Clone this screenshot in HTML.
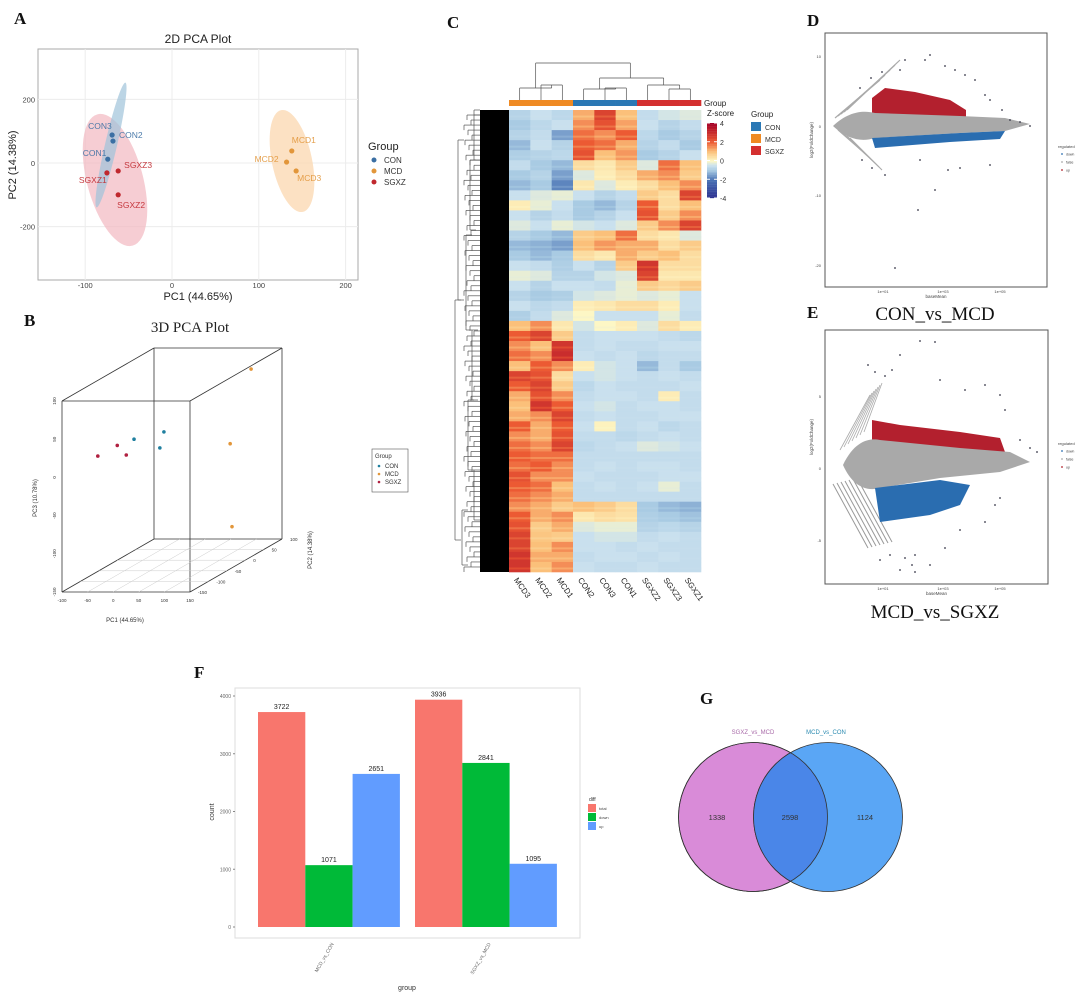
<!DOCTYPE html>
<html><head><meta charset="utf-8"><style>
html,body{margin:0;padding:0;background:#fff;}
svg{display:block;font-family:"Liberation Sans",sans-serif;}
.pl{font-family:"Liberation Serif",serif;font-weight:bold;font-size:17px;fill:#111;}
</style></head><body>
<svg id="fig" width="1080" height="995" viewBox="0 0 1080 995" xmlns="http://www.w3.org/2000/svg">
<text class="pl" x="14" y="24">A</text>
<text class="pl" x="24" y="326">B</text>
<text class="pl" x="447" y="28">C</text>
<text class="pl" x="807" y="26">D</text>
<text class="pl" x="807" y="318">E</text>
<text class="pl" x="194" y="678">F</text>
<text class="pl" x="700" y="704">G</text>

<!-- Panel A -->
<g id="pA">
<text x="198" y="43" font-size="12" text-anchor="middle" fill="#222">2D PCA Plot</text>
<rect x="38" y="49" width="320" height="231" fill="#fff" stroke="#aaa"/>
<g id="aGrid"></g>
<ellipse cx="115" cy="180" rx="28" ry="68" transform="rotate(-15 115 180)" fill="#f2b8c0" opacity="0.7"/>
<ellipse cx="111" cy="145" rx="6" ry="64" transform="rotate(13 111 145)" fill="#9fc3da" opacity="0.7"/>
<ellipse cx="292" cy="161" rx="20" ry="52" transform="rotate(-12 292 161)" fill="#fbd9b4" opacity="0.8"/>
<g id="aPts"></g>
<text x="198" y="300" font-size="11" text-anchor="middle" fill="#222">PC1 (44.65%)</text>
<text transform="translate(16 165) rotate(-90)" font-size="11" text-anchor="middle" fill="#222">PC2 (14.38%)</text>
<g>
<text x="368" y="150" font-size="11" fill="#222">Group</text>
<circle cx="374" cy="160" r="2.5" fill="#3b6fa3"/><text x="384" y="163" font-size="8" fill="#333">CON</text>
<circle cx="374" cy="171" r="2.5" fill="#e2963a"/><text x="384" y="174" font-size="8" fill="#333">MCD</text>
<circle cx="374" cy="182" r="2.5" fill="#c0282e"/><text x="384" y="185" font-size="8" fill="#333">SGXZ</text>
</g>
</g>

<!-- Panel B -->
<g id="pB">
<text x="190" y="332" font-size="15" text-anchor="middle" font-family="Liberation Serif,serif" fill="#222">3D PCA Plot</text>
<g id="bBox" stroke="#333" stroke-width="0.8" fill="none"></g>
<g id="bPts"></g>
<text x="125" y="622" font-size="6" text-anchor="middle" fill="#333">PC1 (44.65%)</text>
<text transform="translate(37 498) rotate(-90)" font-size="6" text-anchor="middle" fill="#333">PC3 (10.78%)</text>
<text transform="translate(312 550) rotate(-90)" font-size="6" text-anchor="middle" fill="#333">PC2 (14.38%)</text>
<g>
<rect x="372" y="449" width="36" height="43" fill="#fff" stroke="#555" stroke-width="0.6"/>
<text x="375" y="458" font-size="6" fill="#333">Group</text>
<circle cx="379" cy="466" r="1.3" fill="#1f7f9f"/><text x="385" y="468" font-size="6" fill="#333">CON</text>
<circle cx="379" cy="474" r="1.3" fill="#e2963a"/><text x="385" y="476" font-size="6" fill="#333">MCD</text>
<circle cx="379" cy="482" r="1.3" fill="#b02040"/><text x="385" y="484" font-size="6" fill="#333">SGXZ</text>
</g>
</g>

<!-- Panel C -->
<g id="pC">
<g id="cTree" stroke="#555" stroke-width="0.7" fill="none"></g>
<g id="cCells"></g>
<g id="cBar"></g>
<g id="cLabels"></g>
<text x="704" y="106" font-size="8" fill="#222">Group</text>
<text x="707" y="116" font-size="8" fill="#222">Z-score</text>
<g id="cScale"></g>
<g>
<text x="751" y="117" font-size="8" fill="#222">Group</text>
<rect x="751" y="122" width="10" height="9" fill="#2a78b5"/><text x="765" y="130" font-size="7" fill="#333">CON</text>
<rect x="751" y="134" width="10" height="9" fill="#ef8a23"/><text x="765" y="142" font-size="7" fill="#333">MCD</text>
<rect x="751" y="146" width="10" height="9" fill="#d43030"/><text x="765" y="154" font-size="7" fill="#333">SGXZ</text>
</g>
</g>

<!-- Panel D & E -->
<g id="pD"></g>
<g id="pE"></g>
<text x="935" y="320" font-size="19" font-family="Liberation Serif,serif" text-anchor="middle" fill="#111">CON_vs_MCD</text>
<text x="935" y="618" font-size="19" font-family="Liberation Serif,serif" text-anchor="middle" fill="#111">MCD_vs_SGXZ</text>

<!-- Panel F -->
<g id="pF">
<rect x="235" y="688" width="345" height="250" fill="#fff" stroke="#ddd"/>
<g id="fAxis"></g>
<g id="fBars"></g>
<text transform="translate(214 812) rotate(-90)" font-size="7" text-anchor="middle" fill="#333">count</text>
<text x="407" y="990" font-size="7" text-anchor="middle" fill="#333">group</text>
<g>
<text x="589" y="801" font-size="5" fill="#333">diff</text>
<rect x="588" y="804" width="8" height="8" fill="#f8766d"/><text x="599" y="810" font-size="4" fill="#444">total</text>
<rect x="588" y="813" width="8" height="8" fill="#00ba38"/><text x="599" y="819" font-size="4" fill="#444">down</text>
<rect x="588" y="822" width="8" height="8" fill="#619cff"/><text x="599" y="828" font-size="4" fill="#444">up</text>
</g>
</g>

<!-- Panel G -->
<g id="pG">
<circle cx="753" cy="817" r="74.5" fill="#d98bd8" stroke="#333" stroke-width="0.8"/>
<circle cx="828" cy="817" r="74.5" fill="#5aa6f5" stroke="#333" stroke-width="0.8"/>
<clipPath id="vc"><circle cx="753" cy="817" r="74.5"/></clipPath>
<circle cx="828" cy="817" r="74.5" fill="#4a86e8" clip-path="url(#vc)" stroke="#333" stroke-width="0.8"/>
<circle cx="753" cy="817" r="74.5" fill="none" stroke="#333" stroke-width="0.8"/>
<text x="753" y="734" font-size="6" text-anchor="middle" fill="#a86aa8">SGXZ_vs_MCD</text>
<text x="826" y="734" font-size="6" text-anchor="middle" fill="#2a8ab0">MCD_vs_CON</text>
<g id="gNums"></g>
</g>
</svg>
<script>
const NS="http://www.w3.org/2000/svg";
function mk(tag,attrs,parent){const e=document.createElementNS(NS,tag);for(const k in attrs)e.setAttribute(k,attrs[k]);if(parent)parent.appendChild(e);return e;}

/* ---------- Panel A data ---------- */
const pcaSamples=["CON1","CON2","CON3","MCD1","MCD2","MCD3","SGXZ1","SGXZ2","SGXZ3"];
const pcaGroups=["CON","CON","CON","MCD","MCD","MCD","SGXZ","SGXZ","SGXZ"];
const pcaPC1=[-74,-68,-69,138,132,143,-75,-62,-62];
const pcaPC2=[12,69,88,38,3,-25,-31,-100,-25];
const aTicksX=[-100,0,100,200];
const aTicksY=[200,0,-200];
const groupColors={CON:"#3b6fa3",MCD:"#e2963a",SGXZ:"#c0282e"};
const xA=v=>172+v*0.868, yA=v=>163-v*0.318;
const aGrid=document.getElementById('aGrid');
aTicksX.forEach(t=>{mk('line',{x1:xA(t),x2:xA(t),y1:49,y2:280,stroke:'#ececec'},aGrid);
 const tx=mk('text',{x:xA(t),y:288,'font-size':7.5,'text-anchor':'middle',fill:'#444'},aGrid);tx.textContent=t;});
aTicksY.forEach(t=>{mk('line',{x1:38,x2:358,y1:yA(t),y2:yA(t),stroke:'#ececec'},aGrid);
 const tx=mk('text',{x:35,y:yA(t)+3,'font-size':7.5,'text-anchor':'end',fill:'#444'},aGrid);tx.textContent=t;});
const aPts=document.getElementById('aPts');
const labelOff={CON1:[-25,-3],CON2:[6,-3],CON3:[-24,-6],MCD1:[0,-8],MCD2:[-32,0],MCD3:[1,10],SGXZ1:[-28,10],SGXZ2:[-1,13],SGXZ3:[6,-3]};
pcaSamples.forEach((s,i)=>{
 const c=mk('circle',{cx:xA(pcaPC1[i]),cy:yA(pcaPC2[i]),r:2.6,fill:groupColors[pcaGroups[i]]},aPts);
 
 
 const o=labelOff[s];
 const t=mk('text',{x:xA(pcaPC1[i])+o[0],y:yA(pcaPC2[i])+o[1],'font-size':8.5,fill:groupColors[pcaGroups[i]],opacity:0.9},aPts);
 t.textContent=s;
});

/* ---------- Panel B data ---------- */
const b3Groups=["SGXZ","SGXZ","SGXZ","CON","CON","CON","MCD","MCD","MCD"];
const b3PC1=[-66,-28,4,-24,48,20,104,135,153];
const b3PC2=[-100,-100,-120,-60,-90,-40,80,-20,-40];
const b3PC3=[14,28,21,25,22,29,78,8,-95];
const b3Col={CON:"#1f7f9f",MCD:"#e2963a",SGXZ:"#b02040"};
function proj(x,y,z){const d=(y+150)/250;return [62+(x+100)*0.512+92*d, 592-(z+150)*0.764-53*d];}
const bBox=document.getElementById('bBox');
function L(p,q,par,extra){return mk('line',Object.assign({x1:p[0],y1:p[1],x2:q[0],y2:q[1]},extra||{}),par);}
const c000=proj(-100,-150,-150),c100=proj(150,-150,-150),c010=proj(-100,100,-150),c110=proj(150,100,-150);
const c001=proj(-100,-150,100),c101=proj(150,-150,100),c011=proj(-100,100,100),c111=proj(150,100,100);
[[c000,c100],[c000,c001],[c100,c101],[c001,c101],[c010,c011],[c011,c111],[c111,c110],[c010,c110],[c001,c011],[c101,c111],[c100,c110],[c000,c010]].forEach(e=>L(e[0],e[1],bBox));
[-50,0,50,100].forEach(v=>L(proj(v,-150,-150),proj(v,100,-150),bBox,{stroke:'#ccc','stroke-width':0.5}));
[-100,-50,0,50].forEach(v=>L(proj(-100,v,-150),proj(150,v,-150),bBox,{stroke:'#ccc','stroke-width':0.5}));
const bPts=document.getElementById('bPts');
b3PC1.forEach((v,i)=>{const p=proj(v,b3PC2[i],b3PC3[i]);
 const c=mk('circle',{cx:p[0],cy:p[1],r:1.8,fill:b3Col[b3Groups[i]]},bPts);
 
 });
[-100,-50,0,50,100,150].forEach(v=>{const p=proj(v,-150,-150);const t=mk('text',{x:p[0],y:p[1]+10,'font-size':4.5,'text-anchor':'middle',fill:'#333'},bPts);t.textContent=v;});
[-150,-100,-50,0,50,100].forEach(v=>{const p=proj(-100,-150,v);const t=mk('text',{transform:`translate(${p[0]-6} ${p[1]}) rotate(-90)`,'font-size':4.5,'text-anchor':'middle',fill:'#333'},bPts);t.textContent=v;});
[-150,-100,-50,0,50,100].forEach(v=>{const p=proj(150,v,-150);const t=mk('text',{x:p[0]+8,y:p[1]+2,'font-size':4.5,fill:'#333'},bPts);t.textContent=v;});

/* ---------- Panel C data ---------- */
const hmSamples=["MCD3","MCD2","MCD1","CON2","CON3","CON1","SGXZ2","SGXZ3","SGXZ1"];
const hmGroups=["MCD","MCD","MCD","CON","CON","CON","SGXZ","SGXZ","SGXZ"];
const hmZ=[
[-0.8,-0.5,-0.7,1.2,2.5,1.0,-0.6,-0.4,-0.3],[-1,-0.7,-0.5,1.5,2.2,1.3,-0.5,-0.8,-0.6],
[-0.8,-0.6,-1.5,1.8,1.5,2.0,-0.7,-1,-0.8],[-1.2,-0.5,-0.8,2.0,1.8,1.2,-0.8,-0.6,-1],
[-0.9,-0.8,-0.7,2.2,1.0,1.4,-1,-0.8,-0.5],[-0.6,-1,-1.2,0.5,0.3,0.8,-0.3,1.8,1.0],
[-1,-0.8,-1.5,-0.3,0.2,0.5,1.2,1.5,0.8],[-1.2,-1,-1.8,0.3,-0.3,0.2,0.5,1.0,1.5],
[-0.5,-0.3,-0.2,-0.5,-0.8,-0.6,0.8,0.5,2.5],[0.2,-0.2,-0.5,-1,-1.2,-0.8,2.0,0.5,1.0],
[-0.5,-0.8,-0.6,-1,-0.8,-0.5,2.2,0.8,1.5],[-0.3,-0.5,-0.2,-0.4,-0.5,-0.3,0.8,1.5,2.5],
[-0.8,-1,-1.2,0.8,1.0,1.8,0.5,0.3,-0.3],[-1.2,-1.3,-1.5,1.0,1.4,1.2,1.2,0.5,0.8],
[-1,-1.2,-1,0.5,0.3,1.2,0.8,1.0,0.5],[-0.5,-0.6,-0.9,-0.5,-0.8,0.8,2.8,0.5,0.5],
[-0.2,-0.3,-0.8,-0.8,-0.4,-0.3,2.5,0.3,0.3],[-0.5,-0.8,-0.5,-0.5,-0.6,-0.2,0.8,0.6,0.8],
[-0.8,-1,-0.9,-0.4,-0.3,-0.2,-0.3,-0.2,-0.5],[-0.5,-0.7,-0.6,0.2,0.3,0.5,0.5,0.2,-0.5],
[-0.9,-0.6,-0.3,0.0,-0.5,-0.5,-0.5,-0.2,-0.6],[1.0,1.5,0.3,-0.4,0.0,0.2,-0.3,0.5,0.2],
[2.0,2.5,0.8,-0.6,-0.5,-0.5,-0.5,-0.6,-0.7],[1.5,1.0,2.8,-0.6,-0.5,-0.6,-0.6,-0.5,-0.5],
[1.8,1.5,3.0,-0.5,-0.6,-0.5,-0.7,-0.6,-0.6],[1.0,2.0,1.5,0.2,-0.4,-0.5,-1.2,-0.6,-1.0],
[2.5,2.2,0.5,-0.5,-0.4,-0.5,-0.6,-0.5,-0.6],[2.0,2.5,0.8,-0.7,-0.5,-0.6,-0.6,-0.6,-0.5],
[1.2,2.2,1.5,-0.6,-0.5,-0.5,-0.6,0.2,-0.6],[1.0,2.8,2.0,-0.5,-0.4,-0.6,-0.5,-0.5,-0.6],
[1.2,1.5,2.5,-0.6,-0.5,-0.6,-0.6,-0.5,-0.5],[2.0,1.2,2.0,-0.5,0.1,-0.6,-0.5,-0.7,-0.6],
[1.5,1.2,2.2,-0.6,-0.6,-0.7,-0.6,-0.5,-0.6],[1.8,1.5,2.5,-0.7,-0.6,-0.5,-0.3,-0.4,-0.5],
[2.0,1.8,1.8,-0.6,-0.6,-0.6,-0.6,-0.6,-0.6],[1.8,2.0,1.5,-0.6,-0.5,-0.6,-0.5,-0.5,-0.6],
[2.2,1.5,1.5,-0.5,-0.6,-0.6,-0.6,-0.5,-0.5],[2.0,1.8,1.0,-0.6,-0.5,-0.6,-0.5,-0.2,-0.6],
[1.8,1.5,1.2,-0.6,-0.6,-0.6,-0.6,-0.6,-0.6],[1.5,1.2,0.8,1.0,0.8,0.5,-1.0,-1.2,-1.3],
[2.0,1.2,1.5,0.3,0.5,0.4,-0.9,-1.0,-1.1],[2.2,0.8,1.2,-0.3,-0.2,-0.2,-0.8,-0.7,-0.8],
[2.5,0.9,0.8,-0.5,-0.4,-0.4,-0.6,-0.5,-0.6],[2.5,1.0,1.5,-0.5,-0.5,-0.6,-0.5,-0.6,-0.6],
[2.8,1.2,1.2,-0.6,-0.5,-0.5,-0.6,-0.5,-0.6],[2.8,1.0,1.5,-0.5,-0.6,-0.6,-0.5,-0.6,-0.6]];
const zTicks=[4,2,0,-2,-4];
const zStops=[[-4,[44,47,143]],[-2,[74,115,181]],[-1,[169,203,227]],[-0.5,[201,224,238]],[0,[253,247,197]],[1,[251,192,122]],[2,[236,90,51]],[4,[165,0,38]]];
function zCol(z){z=Math.max(-4,Math.min(4,z));for(let i=0;i<zStops.length-1;i++){const a=zStops[i],b=zStops[i+1];if(z<=b[0]){const t=(z-a[0])/(b[0]-a[0]);const c=a[1].map((v,k)=>Math.round(v+(b[1][k]-v)*t));return `rgb(${c})`;}}return 'rgb(165,0,38)';}
const hx0=509,hx1=701,hy0=110,hy1=572;
const cw=(hx1-hx0)/hmSamples.length, rh=(hy1-hy0)/hmZ.length;
const colX=i=>hx0+i*cw, rowY=r=>hy0+r*rh;
const cCells=document.getElementById('cCells');
hmZ.forEach((row,r)=>row.forEach((z,i)=>{
 const e=mk('rect',{x:colX(i),y:rowY(r),width:cw+0.3,height:rh+0.3,fill:zCol(z)},cCells);
 
 
 mk('rect',{x:colX(i),y:rowY(r)+rh*0.55,width:cw+0.3,height:rh*0.2,fill:zCol(z*0.75-0.1),opacity:0.6},cCells);
}));
const grpCol={CON:"#2a78b5",MCD:"#ef8a23",SGXZ:"#d43030"};
const cBar=document.getElementById('cBar');
hmGroups.forEach((g,i)=>mk('rect',{x:colX(i),y:100,width:cw+0.3,height:6,fill:grpCol[g]},cBar));
const cLabels=document.getElementById('cLabels');
hmSamples.forEach((s,i)=>{const x=colX(i)+cw/2-6,y=580;const t=mk('text',{transform:`translate(${x} ${y}) rotate(55)`,'font-size':8,fill:'#222'},cLabels);t.textContent=s;});
const cScale=document.getElementById('cScale');
for(let k=0;k<60;k++){const z=4-k*8/60;mk('rect',{x:707,y:123+k*1.25,width:10,height:1.4,fill:zCol(z)},cScale);}
zTicks.forEach(t=>{const y=123+(4-t)/8*75;mk('line',{x1:707,x2:710,y1:y,y2:y,stroke:'#fff'},cScale);mk('line',{x1:714,x2:717,y1:y,y2:y,stroke:'#fff'},cScale);const tx=mk('text',{x:720,y:y+3,'font-size':7,fill:'#333'},cScale);tx.textContent=t;});
const cTree=document.getElementById('cTree');
mk('rect',{x:480,y:hy0,width:29,height:hy1-hy0,fill:'#000',stroke:'none'},cTree);
for(let k=0;k<92;k++){const y=hy0+k*(hy1-hy0)/92;const w=6+((k*7)%11);mk('line',{x1:480-w,x2:480,y1:y,y2:y},cTree);mk('line',{x1:480-w,x2:480-w,y1:y,y2:y+5},cTree);}
[[474,115,160],[470,160,230],[466,235,330],[472,330,400],[468,400,470],[474,470,520],[462,510,565],[458,140,300],[455,300,540]].forEach(a=>{mk('line',{x1:a[0],x2:a[0],y1:a[1],y2:a[2]},cTree);mk('line',{x1:a[0],x2:a[0]+6,y1:a[1],y2:a[1]},cTree);mk('line',{x1:a[0],x2:a[0]+6,y1:a[2],y2:a[2]},cTree);});
const colC=i=>colX(i)+cw/2;
const topLines=[[colC(0),100,colC(0),88],[colC(1),100,colC(1),85],[colC(2),100,colC(2),85],[colC(1),85,colC(2),85],[colC(0),88,(colC(1)+colC(2))/2,88],[(colC(1)+colC(2))/2,85,(colC(1)+colC(2))/2,88],
[(colC(0)+colC(1.5))/2,88,(colC(0)+colC(1.5))/2,63],
[colC(3),100,colC(3),89],[colC(4),100,colC(4),88],[colC(5),100,colC(5),88],[colC(4),88,colC(5),88],[colC(3),89,(colC(4)+colC(5))/2,89],[(colC(4)+colC(5))/2,88,(colC(4)+colC(5))/2,89],
[colC(6),100,colC(6),85],[colC(7),100,colC(7),89],[colC(8),100,colC(8),89],[colC(7),89,colC(8),89],[colC(6),85,(colC(7)+colC(8))/2,85],[(colC(7)+colC(8))/2,85,(colC(7)+colC(8))/2,89],
[(colC(3)+colC(4.5))/2,89,(colC(3)+colC(4.5))/2,78],[(colC(6)+colC(7.5))/2,85,(colC(6)+colC(7.5))/2,78],[(colC(3)+colC(4.5))/2,78,(colC(6)+colC(7.5))/2,78],
[(colC(3.5)+colC(6.5))/2+4,78,(colC(3.5)+colC(6.5))/2+4,63],[(colC(0)+colC(1.5))/2,63,(colC(3.5)+colC(6.5))/2+4,63]];
topLines.forEach(s=>mk('line',{x1:s[0],y1:s[1],x2:s[2],y2:s[3]},cTree));

/* ---------- Panels D/E (MA plots) ---------- */
const maD_outX=[860,871,882,900,905,925,930,945,955,965,975,985,990,1002,1010,1020,1030,862,872,885,920,948,960,990,935,918,895];
const maD_outY=[88,78,72,70,60,60,55,66,70,75,80,95,100,110,120,122,126,160,168,175,160,170,168,165,190,210,268];
const maE_outX=[868,875,885,892,900,920,935,940,965,985,1000,1005,1020,1030,1037,880,890,900,915,930,945,960,985,995,1000,905,912,915];
const maE_outY=[365,372,376,370,355,341,342,380,390,385,395,410,440,448,452,560,555,570,555,565,548,530,522,505,498,558,565,572];
function maPlot(g,box,yticks,yLabY,outX,outY,shape){
 mk('rect',{x:box[0],y:box[1],width:box[2]-box[0],height:box[3]-box[1],fill:'#fff',stroke:'#555','stroke-width':1},g);
 shape(g);
 outX.forEach((x,i)=>{const c=mk('circle',{cx:x,cy:outY[i],r:0.9,fill:'#334'},g);});
 yticks.forEach((t,i)=>{const tx=mk('text',{x:box[0]-4,y:yLabY[i]+2,'font-size':4,'text-anchor':'end',fill:'#444'},g);tx.textContent=t;});
 ['1e+01','1e+03','1e+05'].forEach((t,i)=>{const tx=mk('text',{x:[883,943,1000][i],y:box[3]+6,'font-size':4,'text-anchor':'middle',fill:'#444'},g);tx.textContent=t;});
 const xl=mk('text',{x:(box[0]+box[2])/2,y:box[3]+11,'font-size':4.5,'text-anchor':'middle',fill:'#444'},g);xl.textContent='baseMean';
 const yl=mk('text',{transform:`translate(${box[0]-12} ${(box[1]+box[3])/2-20}) rotate(-90)`,'font-size':4.5,'text-anchor':'middle',fill:'#444'},g);yl.textContent='log2(FoldChange)';
 const ly=(box[1]+box[3])/2-12;
 const lt=mk('text',{x:1058,y:ly,'font-size':4,fill:'#444'},g);lt.textContent='regulated';
 ['down','false','up'].forEach((t,i)=>{mk('circle',{cx:1062,cy:ly+6+i*8,r:0.9,fill:['#2a6db0','#aaa','#b0202a'][i]},g);const tt=mk('text',{x:1066,y:ly+7.5+i*8,'font-size':3.5,fill:'#444'},g);tt.textContent=t;});
}
maPlot(document.getElementById('pD'),[825,33,1047,287],['10','0','-10','-20'],[56,126,195,265],maD_outX,maD_outY,g=>{
 for(let k=0;k<5;k++){mk('line',{x1:835+k*3,y1:118-k*2,x2:880+k*5,y2:80-k*5,stroke:'#aaa','stroke-width':1.2},g);mk('line',{x1:838+k*3,y1:130+k*2,x2:870+k*3,y2:158+k*3,stroke:'#aaa','stroke-width':1.1},g);}
 mk('path',{d:'M872,98 L885,88 L915,92 L950,100 L966,110 L966,118 L872,118 Z',fill:'#b3202e'},g);
 mk('path',{d:'M833,126 C848,112 862,110 875,113 L960,116 L1005,118 L1030,124 L1005,131 L960,133 L875,138 C862,142 848,140 833,126 Z',fill:'#a9a9a9'},g);
 mk('path',{d:'M872,138 L960,133 L1005,131 L1000,139 L950,142 L875,148 Z',fill:'#2a6db0'},g);
});
maPlot(document.getElementById('pE'),[825,330,1048,584],['5','0','-5'],[396,468,540],maE_outX,maE_outY,g=>{
 for(let k=0;k<7;k++){mk('line',{x1:833+k*4,y1:484-k*1,x2:868+k*4,y2:548-k*1,stroke:'#999','stroke-width':1},g);mk('line',{x1:840+k*4,y1:450-k*3,x2:870+k*2,y2:395-k*2,stroke:'#aaa','stroke-width':0.8},g);}
 mk('path',{d:'M872,420 L900,425 L960,432 L1000,438 L1005,452 L872,452 Z',fill:'#b3202e'},g);
 mk('path',{d:'M843,465 C855,440 870,438 880,440 L960,448 L1010,452 L1030,462 L1000,472 L940,478 L880,488 C865,492 852,485 843,465 Z',fill:'#a9a9a9'},g);
 mk('path',{d:'M875,488 L940,480 L970,485 L960,505 L930,515 L880,522 Z',fill:'#2a6db0'},g);
});

/* ---------- Panel F data ---------- */
const barGroups=["MCD_vs_CON","SGXZ_vs_MCD"];
const barSeries=["total","down","up"];
const barTotal=[3722,3936];
const barDown=[1071,2841];
const barUp=[2651,1095];
const fTicks=[0,1000,2000,3000,4000];
const serColors=["#f8766d","#00ba38","#619cff"];
const yF=v=>927-v*0.05775;
const groupX=i=>258+i*157, bw=47.3;
const fAxis=document.getElementById('fAxis');
fTicks.forEach(t=>{mk('line',{x1:233,x2:235,y1:yF(t),y2:yF(t),stroke:'#888'},fAxis);const tx=mk('text',{x:231,y:yF(t)+2,'font-size':5,'text-anchor':'end',fill:'#666'},fAxis);tx.textContent=t;});
barGroups.forEach((g,i)=>{const x=groupX(i)+bw*1.5;const t=mk('text',{transform:`translate(${x+5} ${944}) rotate(-60)`,'font-size':5,'text-anchor':'end',fill:'#666'},fAxis);t.textContent=g;});
const fBars=document.getElementById('fBars');
[barTotal,barDown,barUp].forEach((arr,s)=>arr.forEach((v,i)=>{
 const x=groupX(i)+s*bw;
 const r=mk('rect',{x:x,y:yF(v),width:bw,height:yF(0)-yF(v),fill:serColors[s]},fBars);
 
 
 const t=mk('text',{x:x+bw/2,y:yF(v)-3,'font-size':7,'text-anchor':'middle',fill:'#222'},fBars);t.textContent=v;
}));

/* ---------- Panel G data ---------- */
const vennCounts=[1338,2598,1124];
const vennX=[717,790,865];
const gNums=document.getElementById('gNums');
vennCounts.forEach((v,i)=>{const t=mk('text',{x:vennX[i],y:820,'font-size':7.5,'text-anchor':'middle',fill:'#333'},gNums);t.textContent=v;});
</script>
</body></html>
